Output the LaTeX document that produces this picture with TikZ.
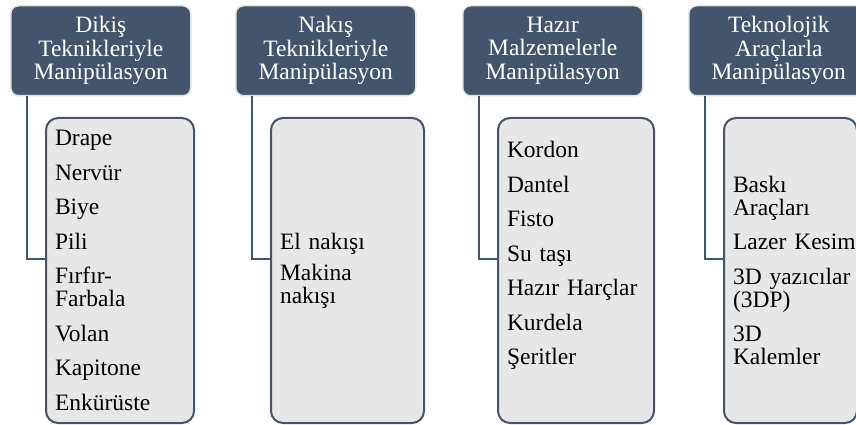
\documentclass[tikz,border=0pt]{standalone}
\usepackage{fontspec}
\setmainfont{Liberation Serif}
\usepackage{xcolor}
\usetikzlibrary{shapes}
\definecolor{baslik}{RGB}{68, 84, 106}
\definecolor{liste}{RGB}{231, 231, 231}
\definecolor{kenar}{RGB}{226, 226, 226}

\begin{document}
\begin{tikzpicture}[x=1pt, y=-1pt,
    hdr/.style={rectangle, draw=kenar, line width=1.5pt, fill=baslik,
                rounded corners=8pt, minimum width=180pt, minimum height=90pt,
                text width=170pt, align=center, text=white, anchor=north west,
                font=\fontsize{23.5}{23.5}\selectfont},
    lst/.style={rectangle, draw=baslik, line width=2pt, fill=liste,
                rounded corners=12pt, minimum height=305pt, inner xsep=9pt,
                align=left, anchor=north west,
                font=\fontsize{23.5}{23}\selectfont},
    bag/.style={draw=baslik, line width=2pt}]
    \clip (0,0) rectangle (856,425);

    % Basliklar
    \node[hdr] (h1) at (10,5) {Dikiş\\Teknikleriyle\\Manipülasyon};
    \node[hdr] (h2) at (235,5) {Nakış\\Teknikleriyle\\Manipülasyon};
    \node[hdr] (h3) at (462,5) {Hazır\\Malzemelerle\\Manipülasyon};
    \node[hdr] (h4) at (688,5) {Teknolojik\\Araçlarla\\Manipülasyon};

    % Alt listeler
    \node[lst, text width=130pt] (l1) at (45,117) {
        Drape\\[11.5pt]
        Nervür\\[11.5pt]
        Biye\\[11.5pt]
        Pili\\[11.5pt]
        Fırfır-\\Farbala\\[11.5pt]
        Volan\\[11.5pt]
        Kapitone\\[11.5pt]
        Enkürüste
    };
    \node[lst, text width=135pt] (l2) at (270,117) {
        El nakışı\\[8pt]
        Makina\\nakışı
    };
    \node[lst, text width=138pt] (l3) at (497,117) {
        Kordon\\[11.5pt]
        Dantel\\[11.5pt]
        Fisto\\[11.5pt]
        Su taşı\\[11.5pt]
        Hazır Harçlar\\[11.5pt]
        Kurdela\\[11.5pt]
        Şeritler\\[11.5pt]
        \mbox{}
    };
    \node[lst, text width=115pt] (l4) at (723,117) {
        Baskı\\Araçları\\[11.5pt]
        \mbox{Lazer Kesim}\\[11.5pt]
        \mbox{3D yazıcılar}\\(3DP)\\[11.5pt]
        3D\\Kalemler
    };

    % Baglantilar
    \draw[bag] ([xshift=17pt]h1.south west) |- ([yshift=11.5pt]l1.west);
    \draw[bag] ([xshift=17pt]h2.south west) |- ([yshift=11.5pt]l2.west);
    \draw[bag] ([xshift=17pt]h3.south west) |- ([yshift=11.5pt]l3.west);
    \draw[bag] ([xshift=17pt]h4.south west) |- ([yshift=11.5pt]l4.west);
\end{tikzpicture}
\end{document}
